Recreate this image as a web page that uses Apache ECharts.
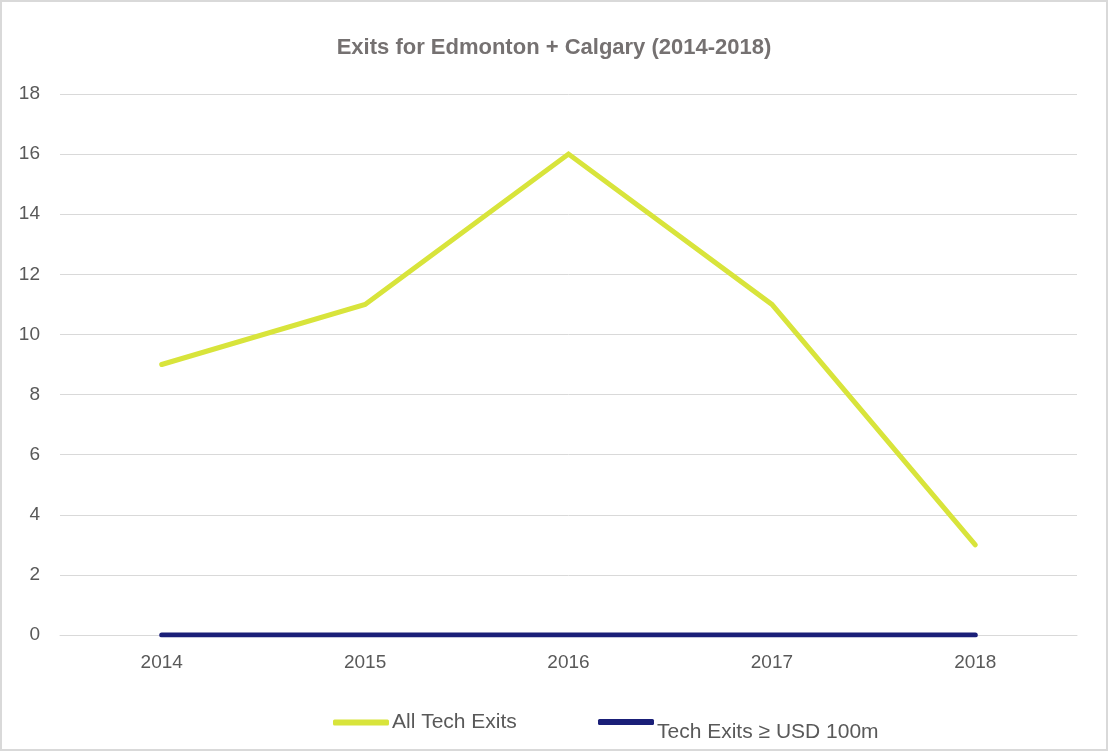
<!DOCTYPE html>
<html>
<head>
<meta charset="utf-8">
<script src="https://cdn.jsdelivr.net/npm/echarts@6/dist/echarts.min.js"></script>
<style>
  html, body { margin: 0; padding: 0; background: #fff; }
  #chart { width: 1108px; height: 751px; box-sizing: border-box; border: 2px solid #d9d9d9; }
</style>
</head>
<body>
<div id="chart"></div>
<script>
// Exit counts per year, Edmonton + Calgary
const years = ['2014', '2015', '2016', '2017', '2018'];
const allTechExits = [9, 11, 16, 11, 3];
const bigTechExits = [0, 0, 0, 0, 0];
const yTicks = { min: 0, max: 18, interval: 2 };

const FONT = '"Liberation Sans Narrow", "Liberation Sans", sans-serif';
const chart = echarts.init(document.getElementById('chart'));

const legendText = { fontFamily: FONT, fontSize: 21, color: '#595959' };

chart.setOption({
  animation: false,
  title: {
    text: 'Exits for Edmonton + Calgary (2014-2018)',
    left: 'center',
    top: 30,
    textStyle: { fontFamily: FONT, fontSize: 22, fontWeight: 'bold', color: '#757171' }
  },
  legend: [
    {
      data: ['All Tech Exits'],
      left: 326,
      top: 705,
      icon: 'roundRect',
      itemWidth: 56,
      itemHeight: 6,
      itemGap: 0,
      formatter: '{t|{name}}',
      textStyle: { rich: { t: Object.assign({ padding: [0, 0, 0, -2] }, legendText) } }
    },
    {
      data: ['Tech Exits \u2265 USD 100m'],
      left: 591,
      top: 712,
      icon: 'roundRect',
      itemWidth: 56,
      itemHeight: 6,
      formatter: '{t|{name}}',
      textStyle: { rich: { t: Object.assign({ padding: [20, 0, 0, -2] }, legendText) } }
    }
  ],
  grid: { left: 58, right: 29, top: 92, bottom: 114 },
  xAxis: {
    type: 'category',
    data: years,
    boundaryGap: true,
    axisLine: { lineStyle: { color: '#d9d9d9' } },
    axisTick: { show: false },
    axisLabel: { fontFamily: FONT, fontSize: 19, color: '#595959', margin: 18 }
  },
  yAxis: {
    type: 'value',
    min: yTicks.min,
    max: yTicks.max,
    interval: yTicks.interval,
    axisLine: { show: false },
    axisTick: { show: false },
    splitLine: { lineStyle: { color: '#d9d9d9', width: 1 } },
    axisLabel: { fontFamily: FONT, fontSize: 19, color: '#595959', margin: 20 }
  },
  series: [
    {
      name: 'All Tech Exits',
      type: 'line',
      data: allTechExits,
      symbol: 'none',
      lineStyle: { color: '#d8e43b', width: 5, cap: 'round', join: 'miter' },
      itemStyle: { color: '#d8e43b' }
    },
    {
      name: 'Tech Exits \u2265 USD 100m',
      type: 'line',
      data: bigTechExits,
      symbol: 'none',
      lineStyle: { color: '#1a1f78', width: 5, cap: 'round' },
      itemStyle: { color: '#1a1f78' }
    }
  ]
});
</script>
</body>
</html>
